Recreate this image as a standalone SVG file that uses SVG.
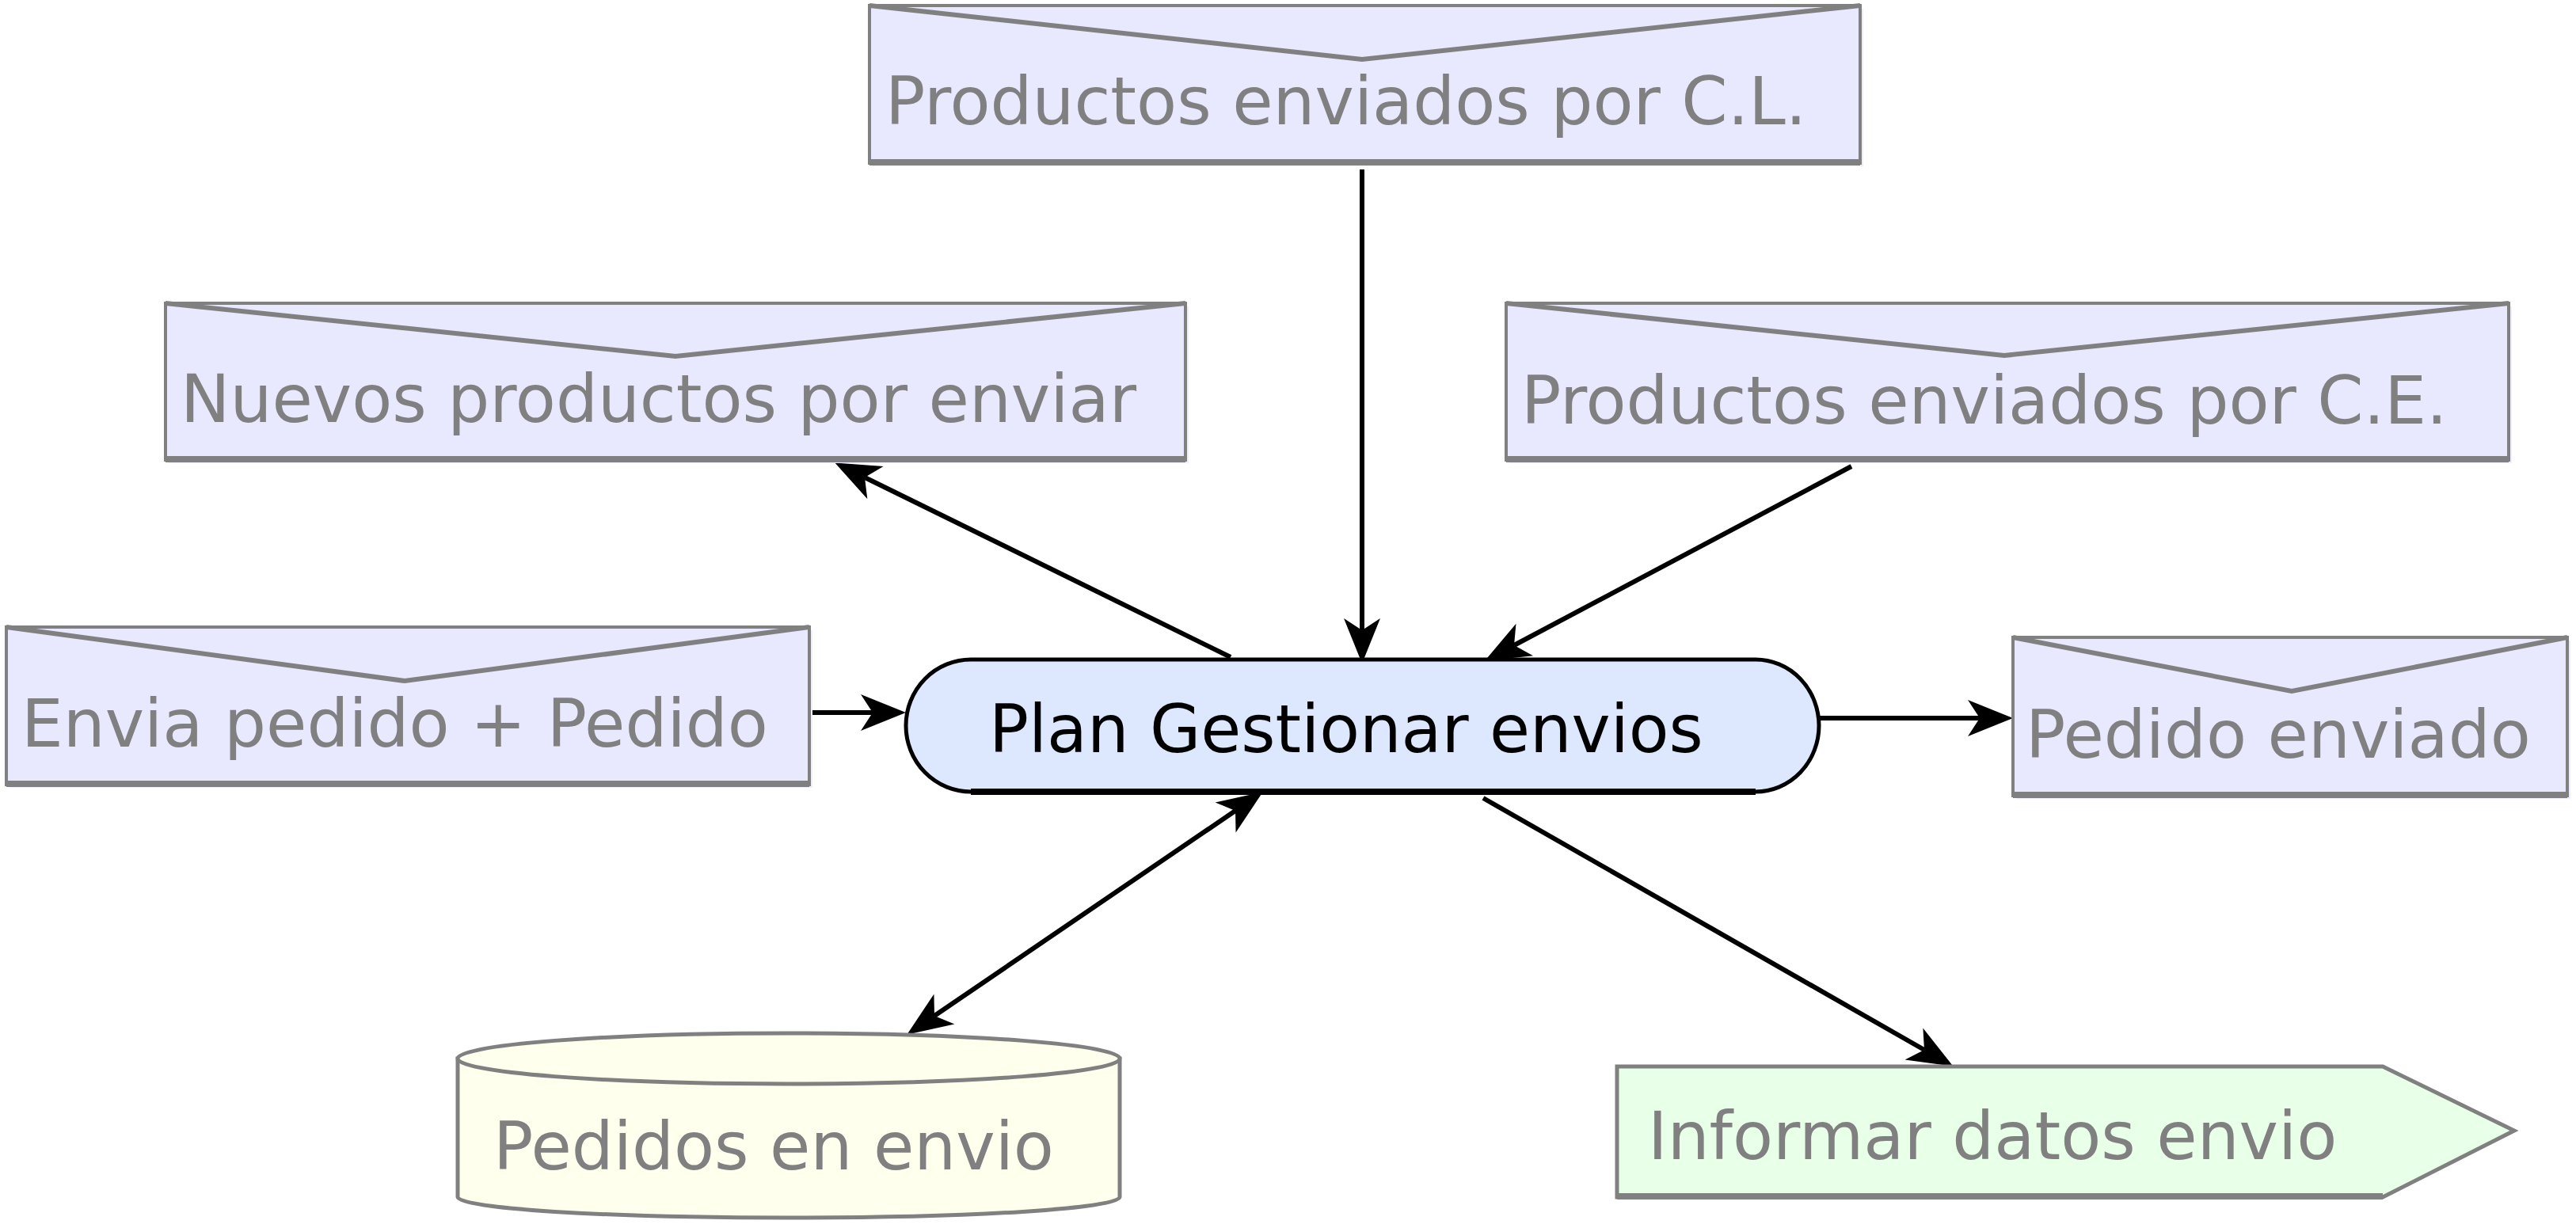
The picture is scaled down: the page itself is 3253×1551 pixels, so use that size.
<svg xmlns="http://www.w3.org/2000/svg" width="3253" height="1551" viewBox="0 0 3253 1551">
<style>
.env{fill:#E8E8FF;stroke:#808080;stroke-width:4}
.shadow{fill:#EEEEFF;stroke:none}
.v{fill:none;stroke:#808080;stroke-width:6}
.bot{stroke:#808080;stroke-width:8}
.lbl{font-family:"DejaVu Sans","Liberation Sans",sans-serif;font-size:83.5px;fill:#808080}
.conn{fill:none;stroke:#000;stroke-width:6}
</style>
<defs>
<marker id="ah" markerUnits="userSpaceOnUse" markerWidth="64" markerHeight="52" refX="15" refY="23" orient="auto-start-reverse" overflow="visible">
<path d="M57,23 L0,0 L15,23 L0,46 Z" fill="#000"/>
</marker>
</defs>
<rect width="3253" height="1551" fill="#fff"/>
<g id="connectors">
<line class="conn" x1="1720" y1="214" x2="1720" y2="796" marker-end="url(#ah)"/>
<line class="conn" x1="1554" y1="830" x2="1092" y2="603" marker-end="url(#ah)"/>
<line class="conn" x1="2338" y1="589" x2="1912" y2="815" marker-end="url(#ah)"/>
<line class="conn" x1="1025" y1="900" x2="1102" y2="900" marker-end="url(#ah)"/>
<line class="conn" x1="2297" y1="907" x2="2500" y2="907" marker-end="url(#ah)"/>
<line class="conn" x1="1560" y1="1024" x2="1180" y2="1283" marker-start="url(#ah)" marker-end="url(#ah)"/>
<line class="conn" x1="1873" y1="1008" x2="2430" y2="1326" marker-end="url(#ah)"/>
</g>
<g id="n_productos_cl">
<rect class="shadow" x="1102" y="11" width="1251" height="199"/>
<rect class="env" x="1098" y="7" width="1251" height="199"/>
<line class="bot" x1="1098" y1="205" x2="2349" y2="205"/>
<polyline class="v" points="1098,7 1720,75 2349,7"/>
<text class="lbl" x="1118" y="157">Productos enviados por C.L.</text>
</g>
<g id="n_nuevos">
<rect class="shadow" x="213" y="387" width="1288" height="198"/>
<rect class="env" x="209" y="383" width="1288" height="198"/>
<line class="bot" x1="209" y1="580" x2="1497" y2="580"/>
<polyline class="v" points="209,383 853,450 1497,383"/>
<text class="lbl" x="228" y="533">Nuevos productos por enviar</text>
</g>
<g id="n_productos_ce">
<rect class="shadow" x="1906" y="387" width="1266" height="198"/>
<rect class="env" x="1902" y="383" width="1266" height="198"/>
<line class="bot" x1="1902" y1="580" x2="3168" y2="580"/>
<polyline class="v" points="1902,383 2531,449 3168,383"/>
<text class="lbl" x="1921" y="535">Productos enviados por C.E.</text>
</g>
<g id="n_envia">
<rect class="shadow" x="12" y="796" width="1014" height="199"/>
<rect class="env" x="8" y="792" width="1014" height="199"/>
<line class="bot" x1="8" y1="990" x2="1022" y2="990"/>
<polyline class="v" points="8,792 511,860 1022,792"/>
<text class="lbl" x="27" y="943">Envia pedido + Pedido</text>
</g>
<g id="n_pedido_enviado">
<rect class="shadow" x="2546" y="809" width="700" height="200"/>
<rect class="env" x="2542" y="805" width="700" height="200"/>
<line class="bot" x1="2542" y1="1004" x2="3242" y2="1004"/>
<polyline class="v" points="2542,805 2894,873 3242,805"/>
<text class="lbl" x="2558" y="957">Pedido enviado</text>
</g>
<g id="n_plan">
<path d="M1226,833 L2217,833 A80,83.5 0 0 1 2217,1000 L1226,1000 A82,83.5 0 0 1 1226,833 Z" fill="#DDE8FF" stroke="#000" stroke-width="5"/>
<line x1="1226" y1="1000" x2="2217" y2="1000" stroke="#000" stroke-width="8"/>
<text x="1249" y="950" font-family="DejaVu Sans, Liberation Sans, sans-serif" font-size="83" fill="#000">Plan Gestionar envios</text>
</g>
<g id="n_pedidos_en_envio">
<path d="M578,1337 L578,1512 A418,26 0 0 0 1414,1512 L1414,1337 Z" fill="#FFFFEE" stroke="#808080" stroke-width="5"/>
<ellipse cx="996" cy="1337" rx="418" ry="32" fill="#FFFFEE" stroke="#808080" stroke-width="5"/>
<text class="lbl" x="623" y="1477">Pedidos en envio</text>
</g>
<g id="n_informar">
<polygon points="2042,1347 3009,1347 3175,1428 3009,1512 2042,1512" fill="#E8FFE8" stroke="#808080" stroke-width="5"/>
<line class="bot" x1="2042" y1="1511" x2="3009" y2="1511"/>
<text class="lbl" x="2081" y="1464">Informar datos envio</text>
</g>
</svg>
